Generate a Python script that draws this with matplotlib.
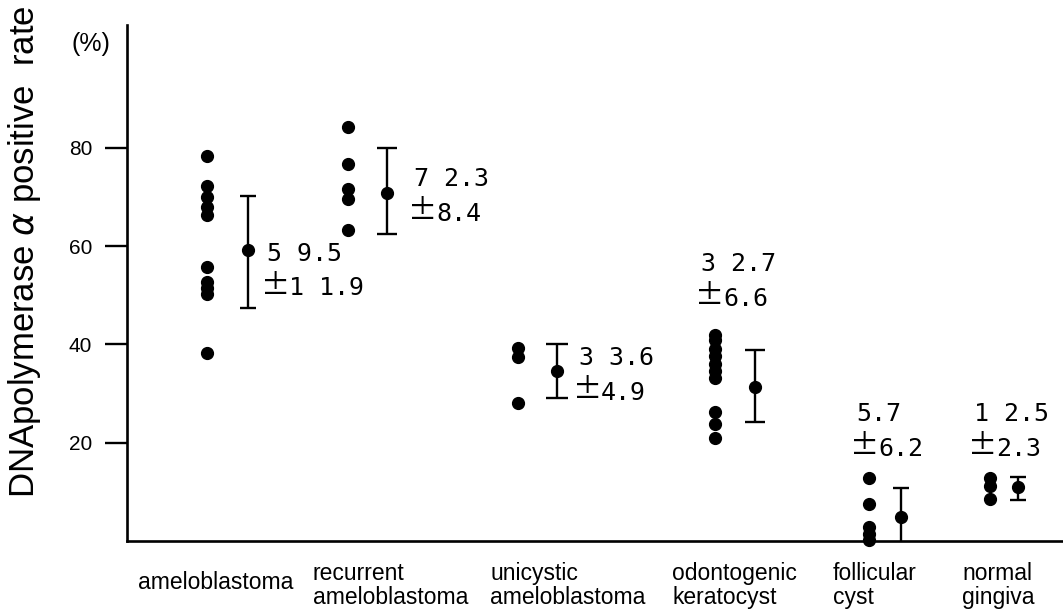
import matplotlib
matplotlib.use('Agg')
import matplotlib.pyplot as plt

# individual cases (%)
amelo = [78.3, 72.3, 69.9, 68.0, 66.3, 55.8, 52.8, 51.4, 50.3, 38.2]
recur = [84.2, 76.7, 71.7, 69.6, 63.3]
unicys = [39.2, 37.5, 28.1]
odonto = [42.0, 40.8, 39.0, 37.6, 36.1, 34.6, 33.2, 26.2, 23.8, 21.0]
follic = [12.8, 7.5, 2.9, 1.5, 0.3]
gingiva = [12.9, 11.2, 8.5]
groups = [amelo, recur, unicys, odonto, follic, gingiva]

# mean and bar ends as drawn
means = [59.2, 70.9, 34.6, 31.4, 4.9, 10.9]
upper = [70.3, 80.0, 40.1, 38.9, 10.7, 13.1]
lower = [47.4, 62.5, 29.1, 24.2, -1.3, 8.4]

cats = ['ameloblastoma', 'recurrent\nameloblastoma', 'unicystic\nameloblastoma',
        'odontogenic\nkeratocyst', 'follicular\ncyst', 'normal\ngingiva']
mean_txt = ['5 9.5', '7 2.3', '3 3.6', '3 2.7', '5.7', '1 2.5']
sd_txt = ['1 1.9', '8.4', '4.9', '6.6', '6.2', '2.3']
yticks = [20, 40, 60, 80]

# layout (x in pixel-like units)
dot_x = [207, 348, 518, 715, 869, 990]
bar_x = [248, 387, 557, 755, 901, 1018]
caps = [5.5, 7.5, 8.2, 7.5, 6.1, 6.1]
lab_x = [264, 411, 576, 698, 853, 971]
lab_y = [58.5, 73.7, 37.3, 56.4, 25.9, 25.9]
cat_x = [138, 313, 490, 672, 833, 962]

W, H = 1063, 614
fig = plt.figure(figsize=(W / 100, H / 100), dpi=100)
ax = fig.add_axes([127 / W, 73 / H, 1 - 127 / W, 516 / H])
ax.set_xlim(127, 1063)
ax.set_ylim(0, 105)

for x, vals in zip(dot_x, groups):
    ax.plot([x] * len(vals), vals, 'o', color='black', ms=8.5, clip_on=False)

for i in range(6):
    ax.errorbar(bar_x[i], means[i],
                yerr=[[means[i] - lower[i]], [upper[i] - means[i]]],
                fmt='o', color='black', ms=8.5, elinewidth=1.7,
                capsize=caps[i], capthick=1.7)

mono = 'DejaVu Sans Mono'
for i in range(6):
    ax.text(lab_x[i] + 3, lab_y[i], mean_txt[i], family=mono, fontsize=18,
            ha='left', va='center')
    ax.text(lab_x[i] - 3, lab_y[i] - 6.8, '±', family='Noto Sans CJK JP',
            fontsize=21, ha='left', va='center')
    ax.text(lab_x[i] + 25, lab_y[i] - 7.1, sd_txt[i], family=mono, fontsize=18,
            ha='left', va='center')

sans = 'Liberation Sans'
for i, c in enumerate(cats):
    if '\n' in c:
        l1, l2 = c.split('\n')
        ax.text(cat_x[i], -7.9, l1, family=sans, fontsize=16.5, va='baseline',
                ha='left', clip_on=False)
        ax.text(cat_x[i], -12.8, l2, family=sans, fontsize=16.5, va='baseline',
                ha='left', clip_on=False)
    else:
        ax.text(cat_x[i], -9.8, c, family=sans, fontsize=16.5, va='baseline',
                ha='left', clip_on=False)

ax.spines['top'].set_visible(False)
ax.spines['right'].set_visible(False)
ax.spines['left'].set_linewidth(1.9)
ax.spines['bottom'].set_linewidth(1.9)
ax.set_xticks([])
ax.set_yticks(yticks)
ax.set_yticklabels([str(t) for t in yticks], family=sans, fontsize=15)
ax.tick_params(axis='y', length=16, width=1.7, pad=9)

fig.text(91 / W, 1 - 44 / H, '(%)', family=sans, fontsize=18,
         ha='center', va='center')
fig.text(25 / W, 1 - 252 / H, 'DNApolymerase $\\alpha$ positive  rate',
         family=sans, fontsize=25, rotation=90, ha='center', va='center')

fig.savefig('out.png', dpi=100)
